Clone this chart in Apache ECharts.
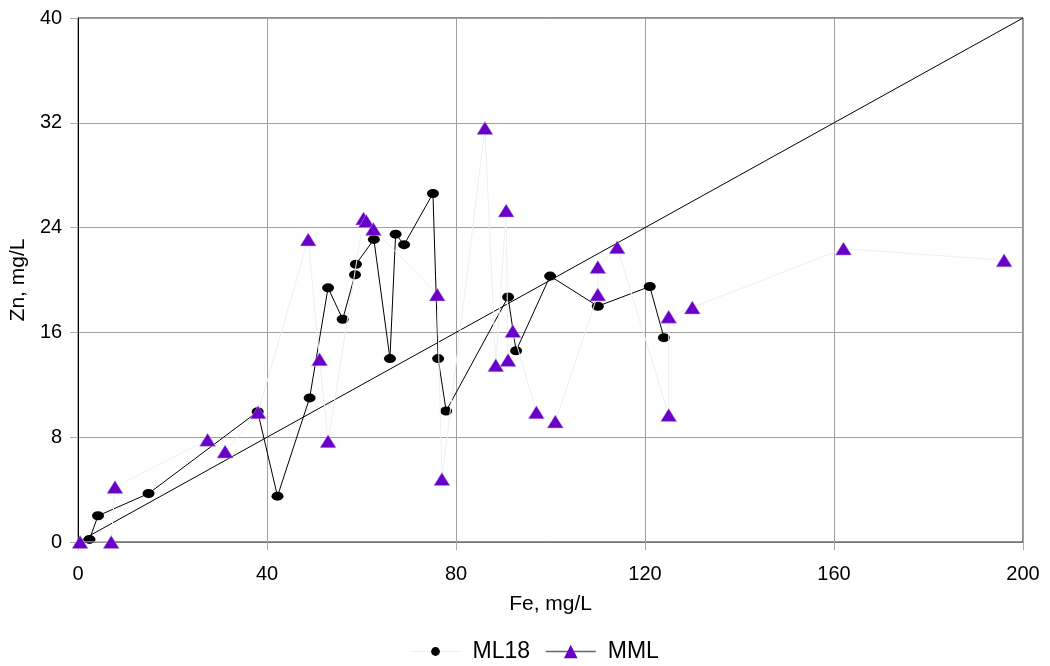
<!DOCTYPE html>
<html>
<head>
<meta charset="utf-8">
<script src="https://cdn.jsdelivr.net/npm/echarts@6/dist/echarts.min.js"></script>
<style>html,body{margin:0;padding:0;background:#fff}#c{width:1050px;height:666px}</style>
</head>
<body>
<div id="c"></div>
<script>
// ML18 points (Fe, Zn)
const ml18Fe = [2.4, 4.2, 14.9, 38.0, 42.2, 49.0, 52.9, 56.0, 58.6, 58.8, 62.6, 66.0, 67.2, 69.0, 75.1, 76.2, 77.9, 91.0, 92.7, 99.9, 110.0, 121.0, 124.0];
const ml18Zn = [0.2, 2.0, 3.7, 9.95, 3.5, 11.0, 19.4, 17.0, 20.4, 21.2, 23.1, 14.0, 23.5, 22.7, 26.6, 14.0, 10.0, 18.7, 14.6, 20.3, 18.0, 19.5, 15.6];
// MML points (Fe, Zn)
const mmlFe = [0.4, 7.0, 7.8, 27.4, 31.1, 38.1, 48.7, 51.1, 52.9, 60.4, 61.0, 62.5, 76.0, 77.0, 86.1, 88.4, 90.6, 91.0, 92.0, 97.0, 101.0, 110.0, 110.0, 114.1, 125.0, 125.0, 130.0, 162.0, 196.0];
const mmlZn = [0.0, 0.0, 4.2, 7.8, 6.9, 9.9, 23.1, 13.95, 7.7, 24.7, 24.5, 23.9, 18.9, 4.8, 31.6, 13.5, 25.3, 13.9, 16.1, 9.9, 9.2, 18.9, 21.0, 22.5, 9.7, 17.2, 17.9, 22.4, 21.5];
// 1:5 reference line
const refFe = [0, 200];
const refZn = [0, 40];
const xTicks = [0, 40, 80, 120, 160, 200];
const yTicks = [0, 8, 16, 24, 32, 40];

const zip = (a, b) => a.map((v, i) => [v, b[i]]);
const font = 'Liberation Sans, Arial, sans-serif';
const legendText = {fontFamily: font, fontSize: 23, color: '#000', padding: [0, 0, 0, 7]};

const chart = echarts.init(document.getElementById('c'), null, {renderer: 'canvas'});
chart.setOption({
  animation: false,
  backgroundColor: '#fff',
  grid: {left: 77, right: 27, top: 18, bottom: 124, show: true, borderColor: '#222', borderWidth: 1, backgroundColor: 'transparent'},
  xAxis: {
    type: 'value', min: xTicks[0], max: xTicks[xTicks.length - 1], interval: 40,
    name: 'Fe, mg/L', nameLocation: 'middle', nameGap: 52,
    nameTextStyle: {fontFamily: font, fontSize: 21, color: '#000'},
    axisLine: {show: true, lineStyle: {color: '#777', width: 1}},
    axisTick: {show: true, inside: false, length: 8, lineStyle: {color: '#aaa'}},
    axisLabel: {fontFamily: font, fontSize: 20, color: '#000', margin: 22},
    splitLine: {show: true, lineStyle: {color: '#a0a0a0', width: 1}}
  },
  yAxis: {
    type: 'value', min: yTicks[0], max: yTicks[yTicks.length - 1], interval: 8,
    name: 'Zn, mg/L', nameLocation: 'middle', nameGap: 49, nameRotate: 90,
    nameTextStyle: {fontFamily: font, fontSize: 21, color: '#000'},
    axisLine: {show: true, lineStyle: {color: '#000', width: 1}},
    axisTick: {show: true, inside: false, length: 8, lineStyle: {color: '#aaa'}},
    axisLabel: {fontFamily: font, fontSize: 20, color: '#000', margin: 16},
    splitLine: {show: true, lineStyle: {color: '#a0a0a0', width: 1}}
  },
  legend: [
    {
      left: 410, top: 640, padding: 0, itemWidth: 50, itemHeight: 11, itemGap: 13,
      textStyle: legendText,
      data: [{name: 'ML18', lineStyle: {color: '#eeeeee', width: 1}, itemStyle: {color: '#000', borderWidth: 0}}]
    },
    {
      left: 545, top: 640, padding: 0, itemWidth: 50, itemHeight: 17, itemGap: 13,
      textStyle: legendText,
      data: [{name: 'MML', lineStyle: {color: '#666', width: 1.5}, itemStyle: {color: '#6a00c8', borderWidth: 0}}]
    }
  ],
  series: [
    {
      name: 'ref', type: 'line', data: zip(refFe, refZn), symbol: 'none',
      lineStyle: {color: '#000', width: 1}, silent: true, z: 1
    },
    {
      name: 'ML18', type: 'line', data: zip(ml18Fe, ml18Zn),
      symbol: 'circle', symbolSize: [12, 9],
      itemStyle: {color: '#000', borderColor: '#000', borderWidth: 0},
      lineStyle: {color: '#000', width: 1}, z: 3
    },
    {
      name: 'MML', type: 'line', data: zip(mmlFe, mmlZn),
      symbol: 'triangle', symbolSize: [16, 13],
      itemStyle: {color: '#6a00c8', borderColor: '#b9a0e6', borderWidth: 0.5},
      lineStyle: {color: '#efefef', width: 1}, z: 4
    }
  ]
});
</script>
</body>
</html>
